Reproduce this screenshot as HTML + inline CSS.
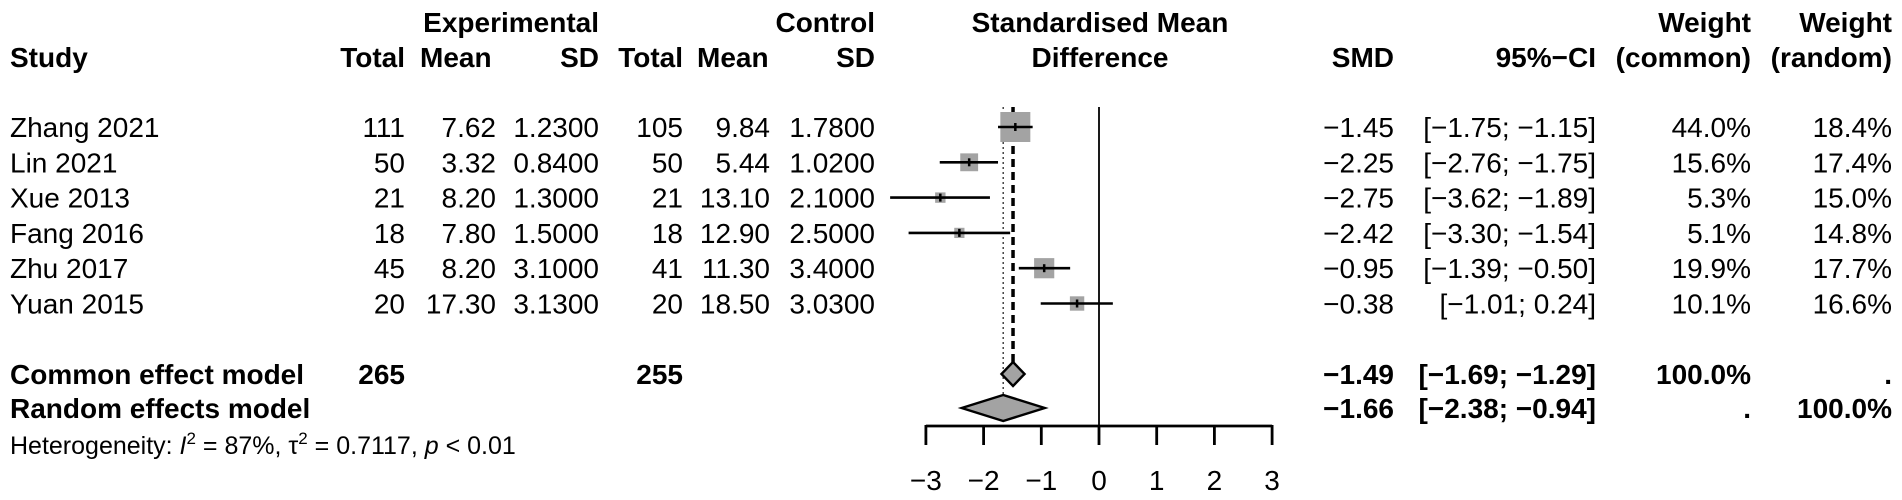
<!DOCTYPE html>
<html><head><meta charset="utf-8"><style>
html,body{margin:0;padding:0;background:#fff;}
svg{display:block;font-family:"Liberation Sans",Arial,sans-serif;}
text{font-size:28px;fill:#000;}
.b{font-weight:bold;}
</style></head><body>
<svg id="fp" width="1902" height="500" viewBox="0 0 1902 500"></svg>
<script>
const studies = ["Zhang 2021","Lin 2021","Xue 2013","Fang 2016","Zhu 2017","Yuan 2015"];
const expTotal = ["111","50","21","18","45","20"];
const expMean = ["7.62","3.32","8.20","7.80","8.20","17.30"];
const expSD = ["1.2300","0.8400","1.3000","1.5000","3.1000","3.1300"];
const ctlTotal = ["105","50","21","18","41","20"];
const ctlMean = ["9.84","5.44","13.10","12.90","11.30","18.50"];
const ctlSD = ["1.7800","1.0200","2.1000","2.5000","3.4000","3.0300"];
const smd = [-1.45,-2.25,-2.75,-2.42,-0.95,-0.38];
const ciLow = [-1.75,-2.76,-3.62,-3.30,-1.39,-1.01];
const ciHigh = [-1.15,-1.75,-1.89,-1.54,-0.50,0.24];
const wCommon = [44.0,15.6,5.3,5.1,19.9,10.1];
const wRandom = [18.4,17.4,15.0,14.8,17.7,16.6];
const commonEst = [-1.49,-1.69,-1.29];
const randomEst = [-1.66,-2.38,-0.94];
const xTicks = [-3,-2,-1,0,1,2,3];

const svg = document.getElementById('fp');
const NS = 'http://www.w3.org/2000/svg';
const x = v => 1099 + v * 57.7;
const rowY = i => 127 + i * 35.3;
function el(tag, attrs, txt){
  const e = document.createElementNS(NS, tag);
  for (const k in attrs) e.setAttribute(k, attrs[k]);
  if (txt !== undefined) e.textContent = txt;
  svg.appendChild(e);
  return e;
}
function txt(s, xx, yy, anchor, bold, name){
  const t = el('text', {x:xx, y:yy+10, 'text-anchor':anchor||'start', class:bold?'b':''}, s);
  
  
  return t;
}
const fmt = v => (v<0?'\u2212':'') + Math.abs(v).toFixed(2);
const fmtCI = (a,b) => '[' + fmt(a) + '; ' + (b<0?fmt(b):' '+fmt(b)) + ']';

// headers
txt('Experimental',599,22,'end',true,'header-experimental');
txt('Control',875,22,'end',true,'header-control');
txt('Standardised Mean',1100,22,'middle',true,'header-smd-title');
txt('Weight',1751,22,'end',true,'header-weight-common');
txt('Weight',1892,22,'end',true,'header-weight-random');
txt('Study',10,57,'start',true,'header-study');
txt('Total',405,57,'end',true,'header-exp-total');
txt('Mean',420,57,'start',true,'header-exp-mean');
txt('SD',599,57,'end',true,'header-exp-sd');
txt('Total',683,57,'end',true,'header-ctl-total');
txt('Mean',697,57,'start',true,'header-ctl-mean');
txt('SD',875,57,'end',true,'header-ctl-sd');
txt('Difference',1100,57,'middle',true,'header-difference');
txt('SMD',1394,57,'end',true,'header-smd');
txt('95%\u2212CI',1596,57,'end',true,'header-ci');
txt('(common)',1751,57,'end',true,'header-common');
txt('(random)',1892,57,'end',true,'header-random');

// reference lines
const zl = el('line',{x1:x(0),x2:x(0),y1:107,y2:426,stroke:'#000','stroke-width':1.8});


const cl = el('line',{x1:x(commonEst[0]),x2:x(commonEst[0]),y1:107,y2:363,stroke:'#000','stroke-width':3.5,'stroke-dasharray':'8,5'});


const rl = el('line',{x1:x(randomEst[0]),x2:x(randomEst[0]),y1:107,y2:396,stroke:'#444','stroke-width':1.5,'stroke-dasharray':'2,3'});



// study rows
studies.forEach((s,i)=>{
  const y = rowY(i);
  txt(s,10,y,'start',false,'study-name');
  txt(expTotal[i],405,y,'end',false,'exp-total');
  txt(expMean[i],496,y,'end',false,'exp-mean');
  txt(expSD[i],599,y,'end',false,'exp-sd');
  txt(ctlTotal[i],683,y,'end',false,'ctl-total');
  txt(ctlMean[i],770,y,'end',false,'ctl-mean');
  txt(ctlSD[i],875,y,'end',false,'ctl-sd');
  txt(fmt(smd[i]),1394,y,'end',false,'smd-value');
  txt(fmtCI(ciLow[i],ciHigh[i]),1596,y,'end',false,'ci-value');
  txt(wCommon[i].toFixed(1)+'%',1751,y,'end',false,'weight-common');
  txt(wRandom[i].toFixed(1)+'%',1892,y,'end',false,'weight-random');
  const sz = 30*Math.sqrt(wCommon[i]/44);
  const sq = el('rect',{x:x(smd[i])-sz/2,y:y-sz/2,width:sz,height:sz,fill:'#a3a3a3'});
  
  
  const ln = el('line',{x1:x(ciLow[i]),x2:x(ciHigh[i]),y1:y,y2:y,stroke:'#000','stroke-width':2.6});
  
  
  const pt = el('line',{x1:x(smd[i]),x2:x(smd[i]),y1:y-4,y2:y+4,stroke:'#000','stroke-width':2.5});
  
  
});

// summary rows
txt('Common effect model',10,374,'start',true,'common-model-label');
txt('265',405,374,'end',true,'common-exp-total');
txt('255',683,374,'end',true,'common-ctl-total');
txt(fmt(commonEst[0]),1394,374,'end',true,'common-smd');
txt(fmtCI(commonEst[1],commonEst[2]),1596,374,'end',true,'common-ci');
txt('100.0%',1751,374,'end',true,'common-weight-common');
txt('.',1892,374,'end',true,'common-weight-random');
txt('Random effects model',10,408,'start',true,'random-model-label');
txt(fmt(randomEst[0]),1394,408,'end',true,'random-smd');
txt(fmtCI(randomEst[1],randomEst[2]),1596,408,'end',true,'random-ci');
txt('.',1751,408,'end',true,'random-weight-common');
txt('100.0%',1892,408,'end',true,'random-weight-random');

function diamond(est, y, h, name){
  const d = el('polygon',{points:[x(est[1])+','+y, x(est[0])+','+(y-h), x(est[2])+','+y, x(est[0])+','+(y+h)].join(' '),fill:'#a3a3a3',stroke:'#000','stroke-width':2.4});
  
  
}
diamond(commonEst,374,12,'common-diamond');
diamond(randomEst,408,13,'random-diamond');

// axis
const ax = el('line',{x1:x(xTicks[0]),x2:x(xTicks[xTicks.length-1]),y1:426,y2:426,stroke:'#000','stroke-width':2.8});


xTicks.forEach(t=>{
  const tk = el('line',{x1:x(t),x2:x(t),y1:425,y2:445,stroke:'#000','stroke-width':2.8});
  
  
  txt((t<0?'\u2212':'')+Math.abs(t),x(t),480,'middle',false,'x-tick-label');
});

// heterogeneity
const h = el('text',{x:10,y:454,style:'font-size:25px'});


h.innerHTML = 'Heterogeneity: <tspan font-style="italic">I</tspan><tspan dy="-10" style="font-size:17px">2</tspan><tspan dy="10"> = 87%, \u03C4</tspan><tspan dy="-10" style="font-size:17px">2</tspan><tspan dy="10"> = 0.7117, </tspan><tspan font-style="italic">p</tspan> &lt; 0.01';
</script>
</body></html>
